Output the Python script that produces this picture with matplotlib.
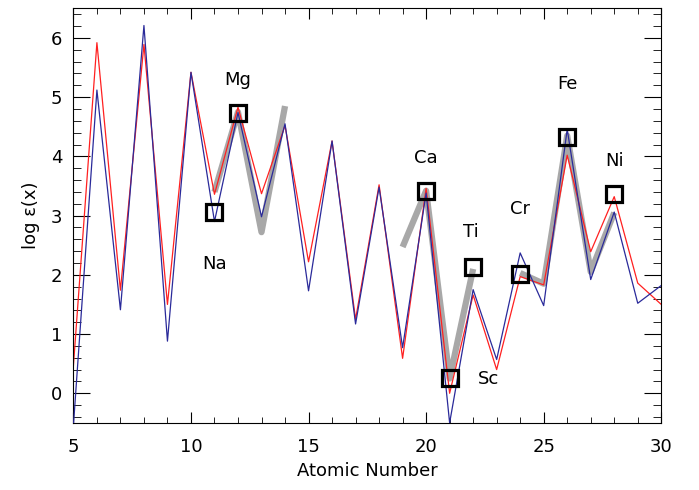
import matplotlib
matplotlib.use('Agg')
import matplotlib.pyplot as plt
from matplotlib.ticker import MultipleLocator

plt.rcParams['font.family'] = ['DejaVu Sans']

# model abundances, Z = 5..30
z = list(range(5, 31))
red = [0.46, 5.92, 1.74, 5.89, 1.50, 5.42, 3.36, 4.83, 3.37, 4.52,
       2.22, 4.26, 1.25, 3.52, 0.59, 3.46, 0.00, 1.66, 0.40, 1.97,
       1.83, 4.02, 2.39, 3.32, 1.86, 1.50]
blue = [-0.55, 5.12, 1.41, 6.21, 0.88, 5.42, 2.90, 4.74, 2.98, 4.55,
        1.73, 4.26, 1.17, 3.48, 0.77, 3.38, -0.5, 1.75, 0.57, 2.37,
        1.48, 4.46, 1.92, 3.06, 1.52, 1.82]

# gray fit segments
gray_segs = [
    ([11, 12, 13, 14], [3.40, 4.75, 2.72, 4.85]),
    ([19, 20, 21, 22], [2.47, 3.42, 0.25, 2.10]),
    ([24, 25, 26, 27, 28], [2.03, 1.85, 4.35, 2.05, 3.05]),
]

# observed
obs_z = [11, 12, 20, 21, 22, 24, 26, 28]
obs_v = [3.06, 4.74, 3.41, 0.25, 2.13, 2.02, 4.32, 3.36]
labels = ['Na', 'Mg', 'Ca', 'Sc', 'Ti', 'Cr', 'Fe', 'Ni']
lab_x = [11.0, 12.0, 20.0, 22.2, 21.9, 24.0, 26.0, 28.0]
lab_y = [2.18, 5.29, 3.98, 0.24, 2.72, 3.11, 5.23, 3.92]

fig = plt.figure(figsize=(6.99, 4.90), dpi=100)
ax = fig.add_axes([0.105, 0.137, 0.841, 0.846])

for gx, gy in gray_segs:
    ax.plot(gx, gy, color='#a8a8a8', lw=4.5, solid_capstyle='butt', zorder=1)

ax.plot(z, red, color='#ff2020', lw=0.9, zorder=2)
ax.plot(z, blue, color='#2a2a9a', lw=0.9, zorder=3)
ax.plot(obs_z, obs_v, 's', ms=12, mfc='none', mec='black', mew=2.3, zorder=4)

for lb, lx, ly in zip(labels, lab_x, lab_y):
    ha = 'left' if lb == 'Sc' else 'center'
    ax.text(lx, ly, lb, fontsize=13, ha=ha, va='center')

ax.set_xlim(5, 30)
ax.set_ylim(-0.5, 6.5)
ax.xaxis.set_major_locator(MultipleLocator(5))
ax.xaxis.set_minor_locator(MultipleLocator(1))
ax.yaxis.set_major_locator(MultipleLocator(1))
ax.yaxis.set_minor_locator(MultipleLocator(0.2))
ax.tick_params(which='both', direction='in', top=True, right=True, labelsize=13)
ax.tick_params(axis='x', which='major', length=8, pad=11)
ax.tick_params(axis='x', which='minor', length=4)
ax.tick_params(axis='y', which='major', length=12, pad=8)
ax.tick_params(axis='y', which='minor', length=6)
ax.set_xlabel('Atomic Number', fontsize=13, labelpad=4)
ax.set_ylabel('log ε(x)', fontsize=13, labelpad=8)

fig.savefig('out.png', dpi=100)
